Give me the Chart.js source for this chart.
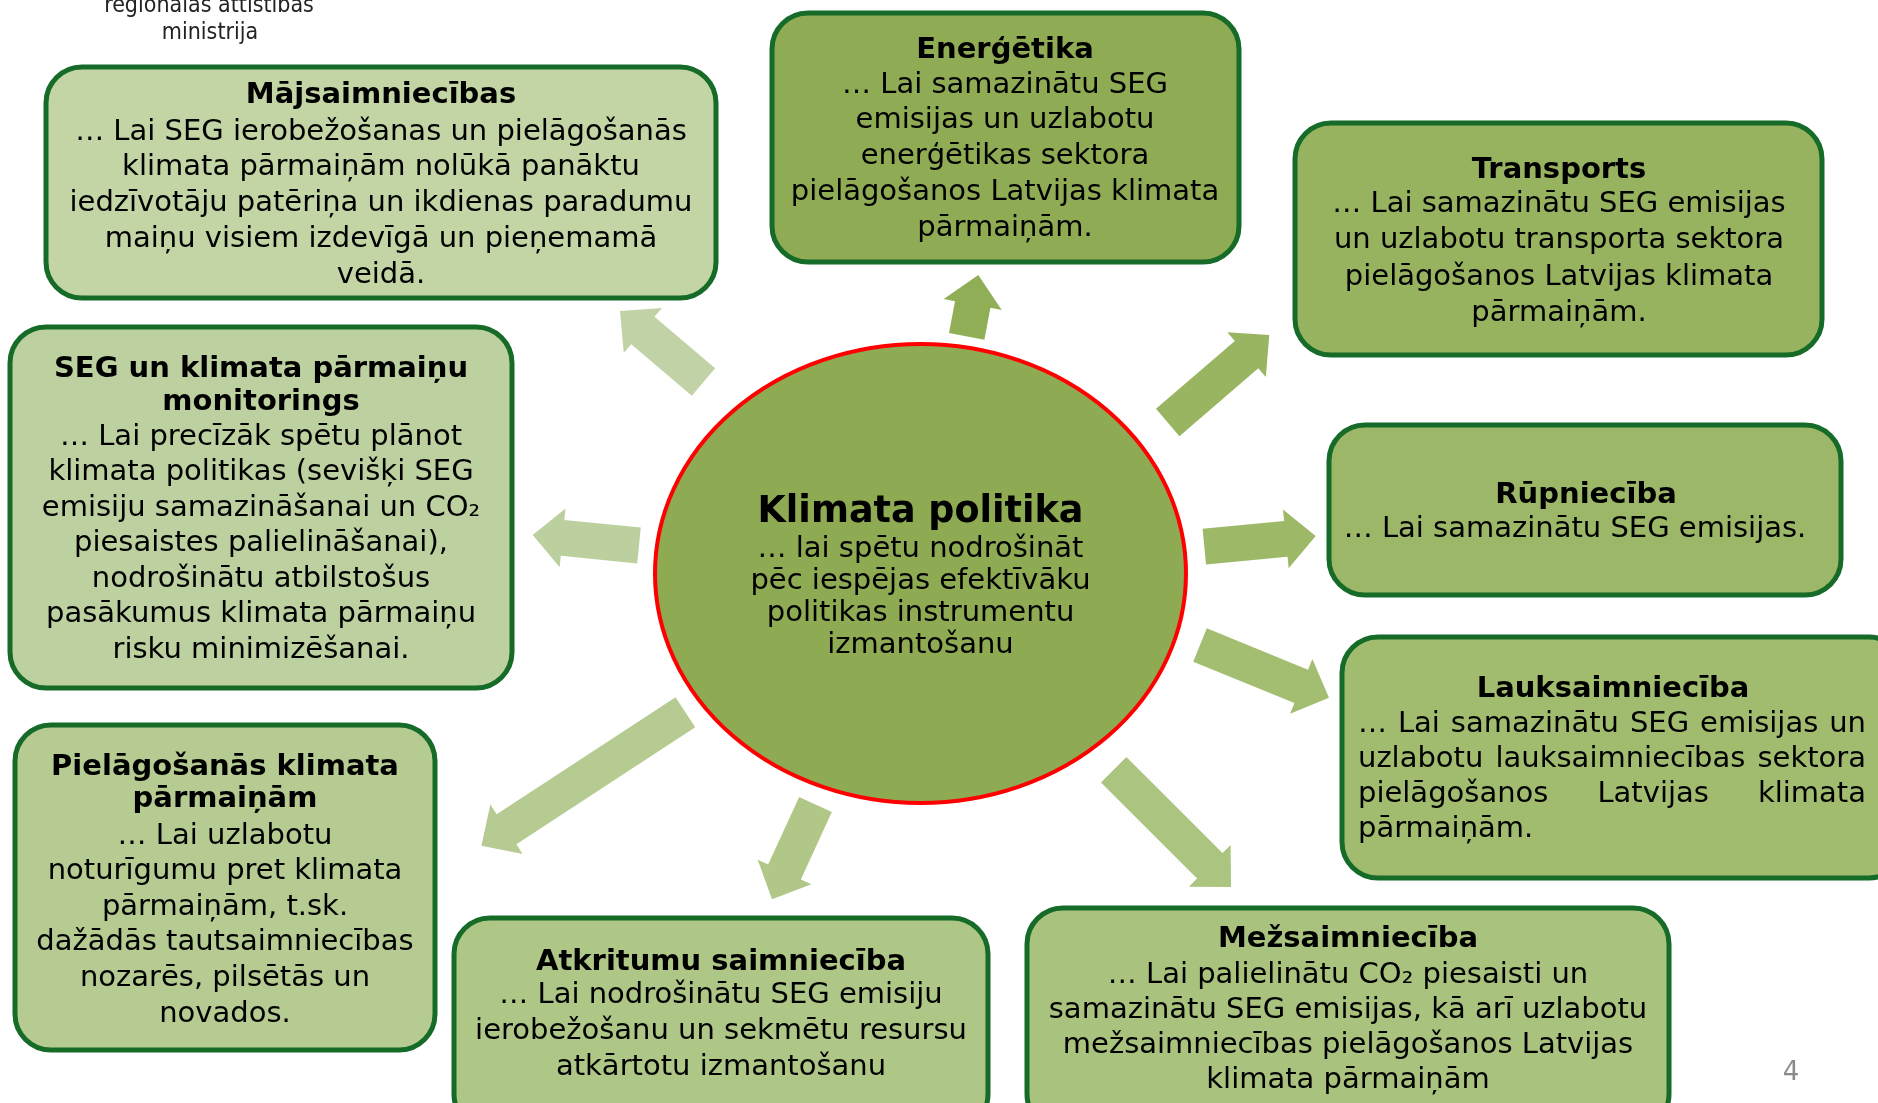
<!DOCTYPE html>
<html><head><meta charset="utf-8">
<script src="https://cdn.jsdelivr.net/npm/chart.js@4.4.1/dist/chart.umd.min.js"></script>
<style>html,body{margin:0;padding:0;background:#fff;overflow:hidden}canvas{display:block}</style>
</head><body>
<canvas id="c" width="1878" height="1103"></canvas>
<script>
// ---- content (text) ----
const boxTitles = [
  ["Mājsaimniecības"],
  ["Enerģētika"],
  ["Transports"],
  ["SEG un klimata pārmaiņu", "monitorings"],
  ["Rūpniecība"],
  ["Lauksaimniecība"],
  ["Pielāgošanās klimata", "pārmaiņām"],
  ["Atkritumu saimniecība"],
  ["Mežsaimniecība"]
];
const boxBodies = [
  ["… Lai SEG ierobežošanas un pielāgošanās", "klimata pārmaiņām nolūkā panāktu", "iedzīvotāju patēriņa un ikdienas paradumu", "maiņu visiem izdevīgā un pieņemamā", "veidā."],
  ["… Lai samazinātu SEG", "emisijas un uzlabotu", "enerģētikas sektora", "pielāgošanos Latvijas klimata", "pārmaiņām."],
  ["… Lai samazinātu SEG emisijas", "un uzlabotu transporta sektora", "pielāgošanos Latvijas klimata", "pārmaiņām."],
  ["… Lai precīzāk spētu plānot", "klimata politikas (sevišķi SEG", "emisiju samazināšanai un CO₂", "piesaistes palielināšanai),", "nodrošinātu atbilstošus", "pasākumus klimata pārmaiņu", "risku minimizēšanai."],
  ["… Lai samazinātu SEG emisijas."],
  ["… Lai samazinātu SEG emisijas un", "uzlabotu lauksaimniecības sektora", "pielāgošanos Latvijas klimata", "pārmaiņām."],
  ["… Lai uzlabotu", "noturīgumu pret klimata", "pārmaiņām, t.sk.", "dažādās tautsaimniecības", "nozarēs, pilsētās un", "novados."],
  ["… Lai nodrošinātu SEG emisiju", "ierobežošanu un sekmētu resursu", "atkārtotu izmantošanu"],
  ["… Lai palielinātu CO₂ piesaisti un", "samazinātu SEG emisijas, kā arī uzlabotu", "mežsaimniecības pielāgošanos Latvijas", "klimata pārmaiņām"]
];
const centerTitle = "Klimata politika";
const centerBody = ["… lai spētu nodrošināt", "pēc iespējas efektīvāku", "politikas instrumentu", "izmantošanu"];
const logoLines = ["reģionālās attīstības", "ministrija"];
const pageNumber = "4";

// ---- layout (positions in axis units) ----
const boxRects = [
  [46, 67, 716, 298], [772, 13, 1239, 262], [1295, 123, 1822, 355],
  [10, 327, 512, 688], [1329, 425, 1841, 595], [1342, 637, 1905, 878],
  [15, 725, 435, 1050], [454, 918, 988, 1130], [1027, 908, 1669, 1130]
];
const boxFills = ["#c3d5a5", "#8fac55", "#97b35f", "#bdd0a0", "#9cb767", "#a1bc6e", "#b5cb92", "#aec686", "#a9c27e"];
const boxTitleX = [381, 1005, 1559, 261, 1586, 1613, 225, 721, 1348];
const boxBodyX  = [381, 1005, 1559, 261, 1575, 1358, 225, 721, 1348];
const boxTitleY = [95, 50, 170, 369, 495, 689, 767, 962, 939];
const boxTitleStep = [33, 33, 33, 33, 33, 33, 32, 33, 33];
const boxBodyY  = [132, 85, 204, 437, 529, 724, 836, 995, 975];
const boxBodyStep = [35.75, 35.75, 36.6, 35.5, 35.7, 35.3, 35.6, 36, 35];
const justifyBox = 5, justifyRight = 1866;
const ellipseGeom = [920.5, 573.5, 265.5, 229.5];
const centerTitleY = 513, centerBodyY = 549, centerBodyStep = 32;
const arrowTail = [[703.5, 382], [966.7, 336.3], [1167.7, 422.5], [639, 545.5], [1204.3, 546.7], [1200, 645], [685.4, 712.3], [815.5, 804.5], [1113.7, 769.8]];
const arrowTip  = [[620, 311], [978.3, 275], [1269.3, 335], [532.7, 535], [1315.7, 536], [1329, 697.7], [481.4, 845.7], [772, 899.3], [1231, 887]];
const arrowFills = ["#c1d3a6", "#8fae55", "#9ab562", "#bcd09f", "#9db968", "#a3be70", "#b5cb91", "#b0c788", "#abc47f"];
const logoPos = [[209, 6], [210, 33]];
const pagePos = [1791, 1073];

const FONT = '"DejaVu Sans", Verdana, sans-serif';

const diagram = {
  id: 'diagram',
  afterDraw(chart) {
    const ctx = chart.ctx, sx = chart.scales.x, sy = chart.scales.y;
    const X = v => sx.getPixelForValue(v), Y = v => sy.getPixelForValue(v);
    ctx.save();
    // arrows
    arrowTail.forEach((t, i) => {
      const x0 = X(t[0]), y0 = Y(t[1]), x1 = X(arrowTip[i][0]), y1 = Y(arrowTip[i][1]);
      const dx = x1 - x0, dy = y1 - y0, L = Math.hypot(dx, dy);
      const ux = dx / L, uy = dy / L, nx = -uy, ny = ux;
      const sw = 18, hw = 29.5, hl = 30;
      const bx = x1 - ux * hl, by = y1 - uy * hl;
      ctx.beginPath();
      ctx.moveTo(x0 + nx * sw, y0 + ny * sw);
      ctx.lineTo(bx + nx * sw, by + ny * sw);
      ctx.lineTo(bx + nx * hw, by + ny * hw);
      ctx.lineTo(x1, y1);
      ctx.lineTo(bx - nx * hw, by - ny * hw);
      ctx.lineTo(bx - nx * sw, by - ny * sw);
      ctx.lineTo(x0 - nx * sw, y0 - ny * sw);
      ctx.closePath();
      ctx.fillStyle = arrowFills[i];
      ctx.fill();
    });
    // boxes
    ctx.textAlign = 'center';
    ctx.textBaseline = 'middle';
    boxRects.forEach((r, i) => {
      const x0 = X(r[0]), y0 = Y(r[1]), x1 = X(r[2]), y1 = Y(r[3]);
      ctx.beginPath();
      ctx.roundRect(x0, y0, x1 - x0, y1 - y0, 36);
      ctx.fillStyle = boxFills[i];
      ctx.fill();
      ctx.lineWidth = 5;
      ctx.strokeStyle = '#156b27';
      ctx.stroke();
      ctx.fillStyle = '#000';
      ctx.font = 'bold 29px ' + FONT;
      ctx.textAlign = 'center';
      boxTitles[i].forEach((s, k) => ctx.fillText(s, X(boxTitleX[i]), Y(boxTitleY[i] + k * boxTitleStep[i])));
      ctx.font = '29px ' + FONT;
      boxBodies[i].forEach((s, k) => {
        const yy = Y(boxBodyY[i] + k * boxBodyStep[i]);
        if (i === justifyBox) {
          const left = X(boxBodyX[i]), right = X(justifyRight);
          const words = s.split(' ');
          ctx.textAlign = 'left';
          if (k === boxBodies[i].length - 1 || words.length < 2) {
            ctx.fillText(s, left, yy);
          } else {
            const ws = words.map(w => ctx.measureText(w).width);
            const gap = (right - left - ws.reduce((a, b) => a + b, 0)) / (words.length - 1);
            let xx = left;
            words.forEach((w, j) => { ctx.fillText(w, xx, yy); xx += ws[j] + gap; });
          }
          ctx.textAlign = 'center';
        } else {
          ctx.fillText(s, X(boxBodyX[i]), yy);
        }
      });
    });
    // central ellipse
    const [ecx, ecy, erx, ery] = ellipseGeom;
    ctx.beginPath();
    ctx.ellipse(X(ecx), Y(ecy), X(ecx + erx) - X(ecx), Math.abs(Y(ecy + ery) - Y(ecy)), 0, 0, Math.PI * 2);
    ctx.fillStyle = '#8eaa52';
    ctx.fill();
    ctx.lineWidth = 4;
    ctx.strokeStyle = '#ff0000';
    ctx.stroke();
    ctx.fillStyle = '#000';
    ctx.textAlign = 'center';
    ctx.font = 'bold 36.5px ' + FONT;
    ctx.fillText(centerTitle, X(ecx), Y(centerTitleY));
    ctx.font = '29px ' + FONT;
    centerBody.forEach((s, k) => ctx.fillText(s, X(ecx), Y(centerBodyY + k * centerBodyStep)));
    // logo text
    ctx.font = '23px "DejaVu Sans Condensed", "DejaVu Sans", sans-serif';
    ctx.fillStyle = '#222';
    logoLines.forEach((s, k) => ctx.fillText(s, X(logoPos[k][0]), Y(logoPos[k][1])));
    // page number
    ctx.font = '26px ' + FONT;
    ctx.fillStyle = '#8a8a8a';
    ctx.fillText(pageNumber, X(pagePos[0]), Y(pagePos[1]));
    ctx.restore();
  }
};

const nodePoints = boxTitleX.map((x, i) => ({ x: (boxRects[i][0] + boxRects[i][2]) / 2, y: (boxRects[i][1] + boxRects[i][3]) / 2 }));

new Chart(document.getElementById('c').getContext('2d'), {
  type: 'scatter',
  data: { datasets: [{ label: 'nodes', data: nodePoints, pointRadius: 0, showLine: false }] },
  options: {
    responsive: false,
    animation: false,
    events: [],
    layout: { padding: 0 },
    plugins: { legend: { display: false }, tooltip: { enabled: false } },
    scales: {
      x: { type: 'linear', min: 0, max: 1878, display: false },
      y: { type: 'linear', min: 0, max: 1103, reverse: true, display: false }
    }
  },
  plugins: [diagram]
});
</script>
</body></html>
